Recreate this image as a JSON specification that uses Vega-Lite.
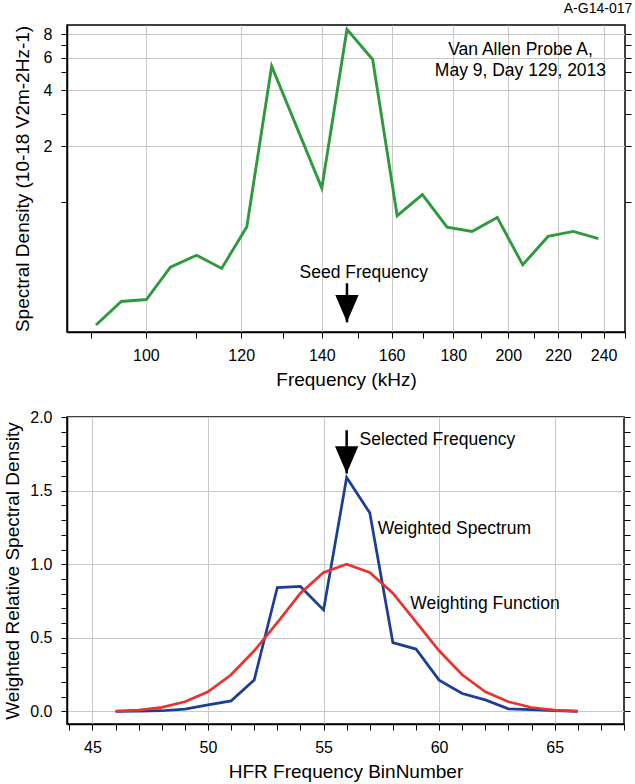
{
  "$schema": "https://vega.github.io/schema/vega-lite/v6.json",
  "padding": {"left": 3, "top": 2, "right": 2, "bottom": 0},
  "background": "white",
  "title": {"text": "A-G14-017", "anchor": "end", "fontSize": 14, "fontWeight": "normal", "font": "Liberation Sans", "color": "black", "offset": 8},
  "config": {
    "font": "Liberation Sans",
    "view": {"stroke": "black", "strokeWidth": 1.5},
    "axis": {
      "domainColor": "black", "domainWidth": 1.5,
      "tickColor": "black", "tickSize": 6, "tickWidth": 1,
      "labelFont": "Liberation Sans", "labelFontSize": 16, "labelColor": "black", "labelPadding": 9, "labelOverlap": false,
      "titleFont": "Liberation Sans", "titleFontSize": 19, "titleFontWeight": "normal", "titleColor": "black", "titlePadding": 7,
      "gridColor": "#c8c8c8", "gridWidth": 1
    }
  },
  "spacing": 18,
  "vconcat": [
    {
      "width": 558,
      "height": 307,
      "resolve": {"axis": {"y": "independent"}},
      "encoding": {
        "x": {"field": "f", "type": "quantitative",
          "scale": {"type": "log", "domain": [86, 250], "nice": false},
          "axis": {"title": "Frequency (kHz)",
            "values": [90, 100, 110, 120, 130, 140, 150, 160, 170, 180, 190, 200, 210, 220, 230, 240, 250],
            "labelExpr": "datum.value % 20 === 0 && datum.value < 250 ? '' + datum.value : ''",
            "gridOpacity": {"condition": {"test": "datum.value % 20 === 0 && datum.value < 250", "value": 1}, "value": 0}}}
      },
      "layer": [
        {
          "data": {"values": [
            {"f": 90.9, "v": 0.218}, {"f": 95.4, "v": 0.292}, {"f": 100.1, "v": 0.299}, {"f": 104.8, "v": 0.447},
            {"f": 110.2, "v": 0.518}, {"f": 115.6, "v": 0.44}, {"f": 121.3, "v": 0.738}, {"f": 127.2, "v": 5.4},
            {"f": 140.0, "v": 1.19}, {"f": 146.9, "v": 8.52}, {"f": 154.3, "v": 5.87}, {"f": 161.7, "v": 0.846},
            {"f": 169.7, "v": 1.098}, {"f": 177.9, "v": 0.734}, {"f": 186.6, "v": 0.696}, {"f": 195.8, "v": 0.828},
            {"f": 205.6, "v": 0.46}, {"f": 215.8, "v": 0.654}, {"f": 226.5, "v": 0.696}, {"f": 237.6, "v": 0.636}
          ]},
          "mark": {"type": "line", "color": "#2e9a3c", "strokeWidth": 2.9, "clip": true},
          "encoding": {
            "y": {"field": "v", "type": "quantitative",
              "scale": {"type": "log", "domain": [0.2, 9], "nice": false},
              "axis": {"title": "Spectral Density (10-18 V2m-2Hz-1)", "titlePadding": 11,
                "values": [1, 2, 3, 4, 5, 6, 7, 8],
                "labelExpr": "datum.value % 2 === 0 ? '' + datum.value : ''",
                "gridOpacity": {"condition": {"test": "datum.value % 2 === 0", "value": 1}, "value": 0}}}
          }
        },
        {
          "data": {"values": [{"f": 146.9, "top": 0.366, "tip": 0.2256}]},
          "mark": {"type": "rule", "color": "black", "strokeWidth": 2.5},
          "encoding": {
            "y": {"field": "top", "type": "quantitative",
              "axis": {"orient": "right", "labels": false, "grid": false, "title": null, "domain": false, "values": [1, 2, 3, 4, 5, 6, 7, 8]}},
            "y2": {"field": "tip"}
          }
        },
        {
          "data": {"values": [{"f": 146.9, "tip": 0.2256}]},
          "mark": {"type": "point", "shape": "M-0.85,-2L0.85,-2L0,0Z", "size": 751, "filled": true, "color": "black", "opacity": 1, "strokeWidth": 0},
          "encoding": {
            "y": {"field": "tip", "type": "quantitative", "axis": null}
          }
        },
        {
          "data": {"values": [
            {"f": 151.7, "v": 0.4145, "label": "Seed Frequency"},
            {"f": 204.7, "v": 6.565, "label": "Van Allen Probe A,"},
            {"f": 204.7, "v": 5.077, "label": "May 9, Day 129, 2013"}
          ]},
          "mark": {"type": "text", "align": "center", "baseline": "middle", "fontSize": 17.5, "font": "Liberation Sans", "color": "black"},
          "encoding": {
            "y": {"field": "v", "type": "quantitative", "axis": null},
            "text": {"field": "label"}
          }
        }
      ]
    },
    {
      "width": 557,
      "height": 307,
      "resolve": {"axis": {"y": "independent"}},
      "encoding": {
        "x": {"field": "bin", "type": "quantitative",
          "scale": {"domain": [43.9, 68], "zero": false, "nice": false},
          "axis": {"title": "HFR Frequency BinNumber",
            "values": [44, 45, 46, 47, 48, 49, 50, 51, 52, 53, 54, 55, 56, 57, 58, 59, 60, 61, 62, 63, 64, 65, 66, 67, 68],
            "labelExpr": "datum.value % 5 === 0 ? '' + datum.value : ''",
            "gridOpacity": {"condition": {"test": "datum.value % 5 === 0", "value": 1}, "value": 0}}}
      },
      "layer": [
        {
          "data": {"values": [
            {"bin": 46, "w": 0.0, "series": "Weighted Spectrum"}, {"bin": 47, "w": 0.002, "series": "Weighted Spectrum"},
            {"bin": 48, "w": 0.005, "series": "Weighted Spectrum"}, {"bin": 49, "w": 0.016, "series": "Weighted Spectrum"},
            {"bin": 50, "w": 0.045, "series": "Weighted Spectrum"}, {"bin": 51, "w": 0.072, "series": "Weighted Spectrum"},
            {"bin": 52, "w": 0.213, "series": "Weighted Spectrum"}, {"bin": 53, "w": 0.842, "series": "Weighted Spectrum"},
            {"bin": 54, "w": 0.849, "series": "Weighted Spectrum"}, {"bin": 55, "w": 0.69, "series": "Weighted Spectrum"},
            {"bin": 56, "w": 1.589, "series": "Weighted Spectrum"}, {"bin": 57, "w": 1.349, "series": "Weighted Spectrum"},
            {"bin": 58, "w": 0.468, "series": "Weighted Spectrum"}, {"bin": 59, "w": 0.424, "series": "Weighted Spectrum"},
            {"bin": 60, "w": 0.213, "series": "Weighted Spectrum"}, {"bin": 61, "w": 0.122, "series": "Weighted Spectrum"},
            {"bin": 62, "w": 0.079, "series": "Weighted Spectrum"}, {"bin": 63, "w": 0.018, "series": "Weighted Spectrum"},
            {"bin": 64, "w": 0.012, "series": "Weighted Spectrum"}, {"bin": 65, "w": 0.005, "series": "Weighted Spectrum"},
            {"bin": 66, "w": 0.0, "series": "Weighted Spectrum"},
            {"bin": 46, "w": 0.003, "series": "Weighting Function"}, {"bin": 47, "w": 0.01, "series": "Weighting Function"},
            {"bin": 48, "w": 0.028, "series": "Weighting Function"}, {"bin": 49, "w": 0.066, "series": "Weighting Function"},
            {"bin": 50, "w": 0.134, "series": "Weighting Function"}, {"bin": 51, "w": 0.249, "series": "Weighting Function"},
            {"bin": 52, "w": 0.412, "series": "Weighting Function"}, {"bin": 53, "w": 0.604, "series": "Weighting Function"},
            {"bin": 54, "w": 0.804, "series": "Weighting Function"}, {"bin": 55, "w": 0.944, "series": "Weighting Function"},
            {"bin": 56, "w": 1.0, "series": "Weighting Function"}, {"bin": 57, "w": 0.944, "series": "Weighting Function"},
            {"bin": 58, "w": 0.804, "series": "Weighting Function"}, {"bin": 59, "w": 0.608, "series": "Weighting Function"},
            {"bin": 60, "w": 0.412, "series": "Weighting Function"}, {"bin": 61, "w": 0.249, "series": "Weighting Function"},
            {"bin": 62, "w": 0.134, "series": "Weighting Function"}, {"bin": 63, "w": 0.066, "series": "Weighting Function"},
            {"bin": 64, "w": 0.027, "series": "Weighting Function"}, {"bin": 65, "w": 0.01, "series": "Weighting Function"},
            {"bin": 66, "w": 0.003, "series": "Weighting Function"}
          ]},
          "mark": {"type": "line", "strokeWidth": 2.75, "clip": true},
          "encoding": {
            "y": {"field": "w", "type": "quantitative",
              "scale": {"domain": [-0.085, 2.0], "zero": false, "nice": false},
              "axis": {"title": "Weighted Relative Spectral Density",
                "values": [0, 0.1, 0.2, 0.3, 0.4, 0.5, 0.6, 0.7, 0.8, 0.9, 1.0, 1.1, 1.2, 1.3, 1.4, 1.5, 1.6, 1.7, 1.8, 1.9, 2.0],
                "labelExpr": "abs(datum.value * 2 - round(datum.value * 2)) < 0.001 ? format(datum.value, '.1f') : ''",
                "gridOpacity": {"condition": {"test": "abs(datum.value * 2 - round(datum.value * 2)) < 0.001", "value": 1}, "value": 0}}},
            "color": {"field": "series", "type": "nominal",
              "scale": {"domain": ["Weighted Spectrum", "Weighting Function"], "range": ["#1b3f95", "#e8342e"]},
              "legend": null}
          }
        },
        {
          "data": {"values": [{"bin": 56, "top": 1.91, "tip": 1.616}]},
          "mark": {"type": "rule", "color": "black", "strokeWidth": 2.5},
          "encoding": {
            "y": {"field": "top", "type": "quantitative",
              "axis": {"orient": "right", "labels": false, "grid": false, "title": null, "domain": false,
                "values": [0, 0.1, 0.2, 0.3, 0.4, 0.5, 0.6, 0.7, 0.8, 0.9, 1.0, 1.1, 1.2, 1.3, 1.4, 1.5, 1.6, 1.7, 1.8, 1.9, 2.0]}},
            "y2": {"field": "tip"}
          }
        },
        {
          "data": {"values": [{"bin": 56, "tip": 1.616}]},
          "mark": {"type": "point", "shape": "M-0.85,-2L0.85,-2L0,0Z", "size": 751, "filled": true, "color": "black", "opacity": 1, "strokeWidth": 0},
          "encoding": {
            "y": {"field": "tip", "type": "quantitative", "axis": null}
          }
        },
        {
          "data": {"values": [
            {"bin": 56.56, "w": 1.842, "label": "Selected Frequency"},
            {"bin": 57.34, "w": 1.242, "label": "Weighted Spectrum"},
            {"bin": 58.75, "w": 0.729, "label": "Weighting Function"}
          ]},
          "mark": {"type": "text", "align": "left", "baseline": "middle", "fontSize": 17.5, "font": "Liberation Sans", "color": "black"},
          "encoding": {
            "y": {"field": "w", "type": "quantitative", "axis": null},
            "text": {"field": "label"}
          }
        }
      ]
    }
  ]
}
